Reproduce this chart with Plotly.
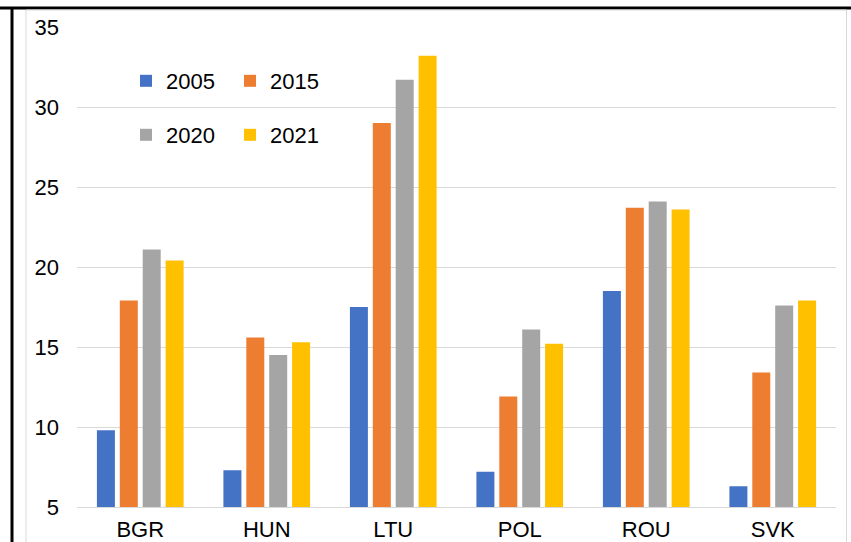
import plotly.graph_objects as go

categories = ["BGR", "HUN", "LTU", "POL", "ROU", "SVK"]
v2005 = [9.8, 7.3, 17.5, 7.2, 18.5, 6.3]
v2015 = [17.9, 15.6, 29.0, 11.9, 23.7, 13.4]
v2020 = [21.1, 14.5, 31.7, 16.1, 24.1, 17.6]
v2021 = [20.4, 15.3, 33.2, 15.2, 23.6, 17.9]
y_ticks = [5, 10, 15, 20, 25, 30, 35]

W, H = 851, 542
L, R, T, B = 77, 15, 27, 35
PW, PH = W - L - R, H - T - B

def px_x(p):
    return (p - L) / PW

def px_y(p):
    return (H - B - p) / PH

FONT = "Liberation Sans, Arial, sans-serif"

fig = go.Figure()
series = [("2005", v2005, "#4472C4", "legend"),
          ("2015", v2015, "#ED7D31", "legend"),
          ("2020", v2020, "#A5A5A5", "legend2"),
          ("2021", v2021, "#FFC000", "legend2")]
for name, vals, col, lg in series:
    fig.add_trace(go.Bar(x=categories, y=vals, name=name, marker_color=col,
                         marker_line_width=0, legend=lg))

shapes = [
    dict(type="line", xref="paper", yref="paper", x0=px_x(0), x1=px_x(W), y0=px_y(8), y1=px_y(8),
         line=dict(color="black", width=3)),
    dict(type="line", xref="paper", yref="paper", x0=px_x(12), x1=px_x(12), y0=px_y(8), y1=px_y(H + 5),
         line=dict(color="black", width=3)),
    dict(type="rect", xref="paper", yref="paper", x0=px_x(26), x1=px_x(846.5), y0=px_y(10), y1=px_y(H + 5),
         line=dict(color="#d9d9d9", width=1)),
]

fig.update_layout(
    width=W, height=H,
    margin=dict(l=L, r=R, t=T, b=B, autoexpand=False),
    paper_bgcolor="white", plot_bgcolor="white",
    font=dict(family=FONT, size=22, color="black"),
    barmode="group", bargap=0.276, bargroupgap=0.214,
    shapes=shapes,
    legend=dict(orientation="h", x=px_x(126), xanchor="left", y=px_y(81), yanchor="middle",
                entrywidth=59, entrywidthmode="pixels", bgcolor="rgba(0,0,0,0)",
                font=dict(family=FONT, size=22, color="black"), traceorder="normal"),
    legend2=dict(orientation="h", x=px_x(126), xanchor="left", y=px_y(135), yanchor="middle",
                 entrywidth=59, entrywidthmode="pixels", bgcolor="rgba(0,0,0,0)",
                 font=dict(family=FONT, size=22, color="black"), traceorder="normal"),
    showlegend=True,
)
fig.update_xaxes(showgrid=False, showline=True, linecolor="#d9d9d9", linewidth=1,
                 ticks="", automargin=False, ticklabelstandoff=3,
                 tickfont=dict(family=FONT, size=22, color="black"))
fig.update_yaxes(range=[5, 35], tickvals=y_ticks, ticktext=[str(v) for v in y_ticks],
                 showgrid=True, gridcolor="#d9d9d9", gridwidth=1, zeroline=False,
                 ticks="", ticklabelstandoff=17, showline=False, automargin=False,
                 tickfont=dict(family=FONT, size=22, color="black"))

fig.write_html("out.html", config={"displayModeBar": False},
               post_script="document.body.style.margin='0';document.body.style.overflow='hidden';")
